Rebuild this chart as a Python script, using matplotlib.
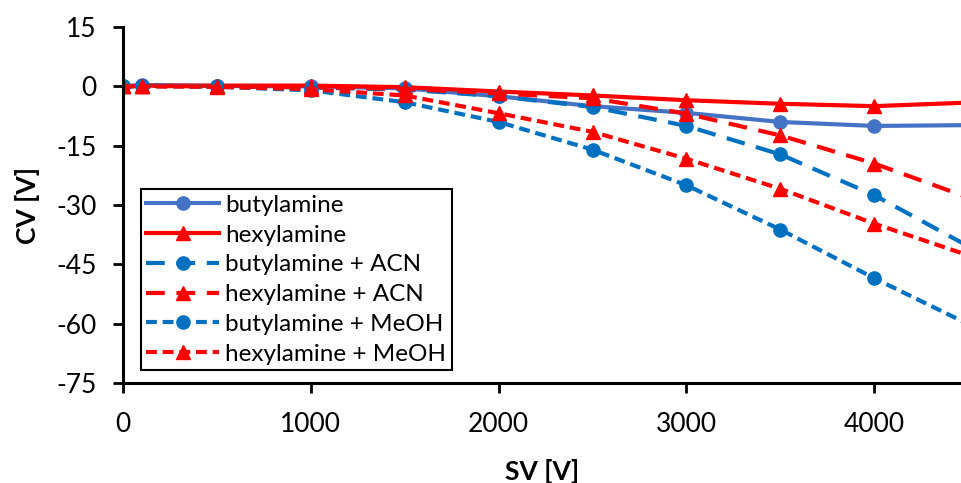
import matplotlib
matplotlib.use('Agg')
import matplotlib.pyplot as plt

# Data
sv = [0, 100, 500, 1000, 1500, 2000, 2500, 3000, 3500, 4000, 4500]
butylamine = [0, 0.3, 0.1, 0, -0.5, -2.5, -5.0, -6.7, -9.0, -10.0, -9.8]
hexylamine = [0, 0.2, 0.2, 0.2, -0.2, -1.3, -2.3, -3.5, -4.4, -5.0, -4.1]
butylamine_acn = [0, 0.2, 0, -0.3, -0.8, -2.5, -5.2, -10.0, -17.2, -27.5, -40.4]
hexylamine_acn = [0, 0.1, 0, -0.2, -0.6, -1.8, -3.0, -6.9, -12.4, -19.5, -28.1]
butylamine_meoh = [0, 0.1, -0.1, -1.0, -4.0, -9.0, -16.0, -25.0, -36.2, -48.5, -60.1]
hexylamine_meoh = [0, 0, -0.1, -0.7, -2.3, -6.8, -11.5, -18.3, -25.9, -34.7, -42.7]

x_ticks = [0, 1000, 2000, 3000, 4000]
y_ticks = [15, 0, -15, -30, -45, -60, -75]

plt.rcParams['font.family'] = ['Lato', 'DejaVu Sans']
plt.rcParams['axes.unicode_minus'] = False

fig = plt.figure(figsize=(9.61, 4.83), dpi=100)
ax = fig.add_axes([0.128, 0.207, 0.872, 0.737])

blue_solid = '#4472C4'
blue = '#0070C0'
red = '#FF0000'
lw = 3.0
ms = 9.5

ax.plot(sv, butylamine, color=blue_solid, lw=lw, marker='o', ms=ms, label='butylamine')
ax.plot(sv, hexylamine, color=red, lw=lw, marker='^', ms=ms, label='hexylamine')
ax.plot(sv, butylamine_acn, color=blue, lw=lw, marker='o', ms=ms,
        dashes=(4.5, 2.8), label='butylamine + ACN')
ax.plot(sv, hexylamine_acn, color=red, lw=lw, marker='^', ms=ms,
        dashes=(4.5, 2.8), label='hexylamine + ACN')
ax.plot(sv, butylamine_meoh, color=blue, lw=lw, marker='o', ms=ms,
        dashes=(2.6, 1.4), label='butylamine + MeOH')
ax.plot(sv, hexylamine_meoh, color=red, lw=lw, marker='^', ms=ms,
        dashes=(2.6, 1.4), label='hexylamine + MeOH')

ax.set_xlim(0, 4462)
ax.set_ylim(-75, 15)
ax.set_xticks(x_ticks)
ax.set_yticks(y_ticks)
ax.tick_params(labelsize=19, width=2, length=7, direction='out')
ax.tick_params(axis='y', pad=12)
ax.tick_params(axis='x', pad=14)
ax.spines['top'].set_visible(False)
ax.spines['right'].set_visible(False)
ax.spines['left'].set_linewidth(2.2)
ax.spines['bottom'].set_linewidth(2.2)

ax.set_xlabel('SV [V]', fontsize=19, fontweight='bold', labelpad=16)
ax.set_ylabel('CV [V]', fontsize=19, fontweight='bold', labelpad=12)

leg = ax.legend(loc='lower left', bbox_to_anchor=(0.0215, 0.0365), fontsize=17.5,
                frameon=True, fancybox=False, edgecolor='black', framealpha=1,
                handlelength=3.0, handletextpad=0.25, labelspacing=0.36,
                borderpad=0.22, borderaxespad=0)
leg.get_frame().set_linewidth(1.5)

fig.savefig('out.png', dpi=100)
